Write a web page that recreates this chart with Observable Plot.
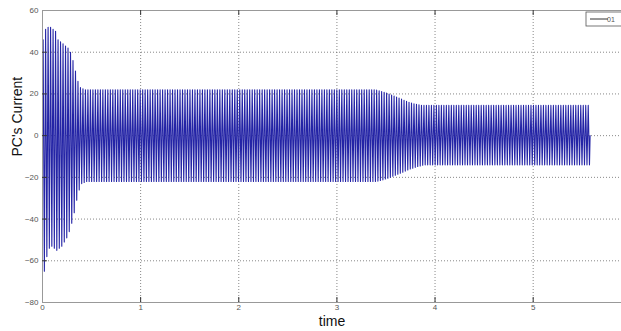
<!DOCTYPE html>
<html>
<head>
<meta charset="utf-8">
<script src="https://cdn.jsdelivr.net/npm/d3@7"></script>
<script src="https://cdn.jsdelivr.net/npm/@observablehq/plot@0.6"></script>
<style>
  html, body { margin: 0; padding: 0; background: #fff; }
  svg { font-family: "Liberation Sans", Arial, sans-serif; }
</style>
</head>
<body>
<div id="chart"></div>
<script>
// Upper (positive) peak of each oscillation cycle
const upperPeaks = [
  46, 51, 52, 52, 51, 50, 46, 45, 44, 43, 42, 40, 36, 31, 26, 23, 22.5,
  22, 22, 22, 22, 22, 22, 22, 22, 22, 22,
  22, 22, 22, 22, 22, 22, 22, 22, 22, 22,
  22, 22, 22, 22, 22, 22, 22, 22, 22, 22,
  22, 22, 22, 22, 22, 22, 22, 22, 22, 22,
  22, 22, 22, 22, 22, 22, 22, 22, 22, 22,
  22, 22, 22, 22, 22, 22, 22, 22, 22, 22,
  22, 22, 22, 22, 22, 22, 22, 22, 22, 22,
  22, 22, 22, 22, 22, 22, 22, 22, 22, 22,
  22, 22, 22, 22, 22, 22, 22, 22, 22, 22,
  22, 22, 22, 22, 22, 22, 22, 22, 22, 22,
  22, 22, 22, 22, 22, 22, 22, 22, 22, 22,
  22, 22, 22, 22, 22, 22, 22,
  21.8, 21.5, 21.2, 20.8, 20.4, 20, 19.5, 19, 18.5, 18, 17.5,
  17, 16.5, 16, 15.6, 15.3, 15, 14.8, 14.6, 14.5,
  14.5, 14.5, 14.5, 14.5, 14.5, 14.5, 14.5, 14.5, 14.5, 14.5,
  14.5, 14.5, 14.5, 14.5, 14.5, 14.5, 14.5, 14.5, 14.5, 14.5,
  14.5, 14.5, 14.5, 14.5, 14.5, 14.5, 14.5, 14.5, 14.5, 14.5,
  14.5, 14.5, 14.5, 14.5, 14.5, 14.5, 14.5, 14.5, 14.5, 14.5,
  14.5, 14.5, 14.5, 14.5, 14.5, 14.5, 14.5, 14.5, 14.5, 14.5,
  14.5, 14.5, 14.5, 14.5, 14.5, 14.5, 14.5, 14.5, 14.5, 14.5,
  14.5, 14.5, 14.5, 14.5, 14.5, 14.5
];
// Lower (negative) peak of each oscillation cycle
const lowerPeaks = [
  -65, -58, -54, -53, -54, -55, -54, -53, -51, -49, -46, -42, -37, -31, -26, -23, -22.5,
  -22, -22, -22, -22, -22, -22, -22, -22, -22, -22,
  -22, -22, -22, -22, -22, -22, -22, -22, -22, -22,
  -22, -22, -22, -22, -22, -22, -22, -22, -22, -22,
  -22, -22, -22, -22, -22, -22, -22, -22, -22, -22,
  -22, -22, -22, -22, -22, -22, -22, -22, -22, -22,
  -22, -22, -22, -22, -22, -22, -22, -22, -22, -22,
  -22, -22, -22, -22, -22, -22, -22, -22, -22, -22,
  -22, -22, -22, -22, -22, -22, -22, -22, -22, -22,
  -22, -22, -22, -22, -22, -22, -22, -22, -22, -22,
  -22, -22, -22, -22, -22, -22, -22, -22, -22, -22,
  -22, -22, -22, -22, -22, -22, -22, -22, -22, -22,
  -22, -22, -22, -22, -22, -22, -22,
  -21.8, -21.5, -21.2, -20.8, -20.4, -20, -19.5, -19, -18.5, -18, -17.5,
  -17, -16.5, -16, -15.6, -15.2, -14.8, -14.5, -14.2, -14,
  -14, -14, -14, -14, -14, -14, -14, -14, -14, -14,
  -14, -14, -14, -14, -14, -14, -14, -14, -14, -14,
  -14, -14, -14, -14, -14, -14, -14, -14, -14, -14,
  -14, -14, -14, -14, -14, -14, -14, -14, -14, -14,
  -14, -14, -14, -14, -14, -14, -14, -14, -14, -14,
  -14, -14, -14, -14, -14, -14, -14, -14, -14, -14,
  -14, -14, -14, -14, -14, -14
];
const tEnd = 5.58;
const xTicks = [0, 1, 2, 3, 4, 5];
const yTicks = [-80, -60, -40, -20, 0, 20, 40, 60];
const legendLabel = "01";

const nCycles = Math.min(upperPeaks.length, lowerPeaks.length);
const period = tEnd / nCycles;
const series = [{t: 0, v: 0}];
for (let i = 0; i < nCycles; i++) {
  series.push({t: (i + 0.25) * period, v: upperPeaks[i]});
  series.push({t: (i + 0.75) * period, v: lowerPeaks[i]});
}
series.push({t: tEnd, v: 0});

const gridColor = "#555";
const tickColor = "#333";

const legend = (index, scales, values, dims) => {
  const g = d3.create("svg:g");
  const x0 = dims.width - 35, y0 = dims.marginTop + 2;
  g.append("rect").attr("x", x0).attr("y", y0).attr("width", 60).attr("height", 14)
    .attr("fill", "#fff").attr("stroke", "#555").attr("stroke-width", 0.8);
  g.append("line").attr("x1", x0 + 4).attr("x2", x0 + 22).attr("y1", y0 + 7).attr("y2", y0 + 7)
    .attr("stroke", "#333").attr("stroke-width", 1);
  g.append("text").attr("x", x0 + 25).attr("y", y0 + 9.5).attr("font-size", 7)
    .attr("fill", "#555").text(legendLabel);
  return g.node();
};

const chart = Plot.plot({
  width: 621,
  height: 331,
  marginLeft: 42,
  marginRight: 0,
  marginTop: 10,
  marginBottom: 29,
  x: {domain: [0, 5.9]},
  y: {domain: [-80, 60]},
  marks: [
    Plot.gridX(xTicks.slice(1), {stroke: gridColor, strokeOpacity: 0.7, strokeDasharray: "1,2"}),
    Plot.gridY(yTicks.slice(1, -1), {stroke: gridColor, strokeOpacity: 0.7, strokeDasharray: "1,2"}),
    Plot.line(series, {x: "t", y: "v", stroke: "#2424a6", strokeWidth: 1.1}),
    Plot.frame({stroke: "#999", strokeWidth: 1}),
    Plot.ruleX(xTicks.slice(1), {y1: -80, y2: -77.6, stroke: tickColor}),
    Plot.ruleX(xTicks.slice(1), {y1: 60, y2: 57.6, stroke: tickColor}),
    Plot.ruleY(yTicks.slice(1, -1), {x1: 0, x2: 0.05, stroke: tickColor}),
    Plot.axisX(xTicks, {tickSize: 0, tickPadding: 2, fontSize: 8, fill: "#555", label: null}),
    Plot.axisY(yTicks, {tickSize: 0, tickPadding: 4, fontSize: 8, fill: "#555", label: null}),
    Plot.text(["time"], {frameAnchor: "bottom", dy: 23, fontSize: 14, fill: "#111", text: d => d}),
    Plot.text(["PC's Current"], {frameAnchor: "left", dx: -25, rotate: -90, fontSize: 14, fill: "#111", text: d => d}),
    legend
  ]
});
document.getElementById("chart").appendChild(chart);
</script>
</body>
</html>
